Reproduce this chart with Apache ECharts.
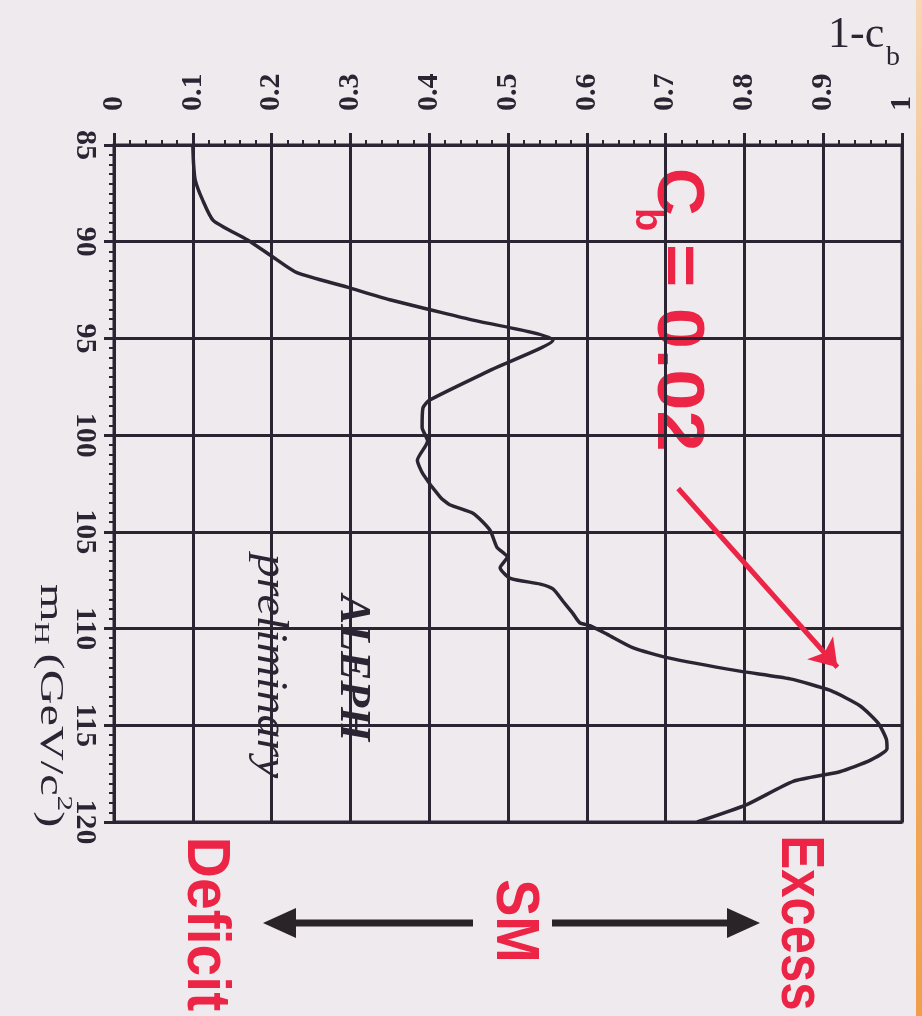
<!DOCTYPE html>
<html>
<head>
<meta charset="utf-8">
<script src="https://cdn.jsdelivr.net/npm/echarts@6/dist/echarts.min.js"></script>
<style>
  html, body { margin: 0; padding: 0; background: #efeaee; }
  #chart { width: 922px; height: 1016px; }
</style>
</head>
<body>
<div id="chart"></div>
<script>
// Higgs mass hypothesis (GeV/c^2) and the background-only confidence 1-c_b
const massGeV = [
  85.0, 86.0, 86.8, 87.8, 88.9, 89.9, 90.8, 91.6, 92.35, 93.0,
  94.0, 95.1, 96.6, 98.2, 98.6, 99.6, 100.3, 101.3, 102.0, 103.2,
  103.6, 104.05, 104.9, 105.8, 106.3, 106.85, 107.4, 107.7, 107.95, 108.6,
  109.2, 109.7, 109.85, 110.3, 111.0, 111.5, 112.2, 112.6, 113.2, 114.0,
  114.9, 115.7, 116.2, 116.8, 117.4, 117.9, 119.1, 120.0
];
const oneMinusCb = [
  0.100, 0.101, 0.103, 0.112, 0.126, 0.169, 0.202, 0.232, 0.296, 0.350,
  0.450, 0.557, 0.480, 0.400, 0.392, 0.391, 0.398, 0.385, 0.392, 0.414,
  0.426, 0.456, 0.477, 0.486, 0.499, 0.490, 0.503, 0.541, 0.557, 0.570,
  0.582, 0.591, 0.604, 0.626, 0.659, 0.702, 0.794, 0.858, 0.909, 0.947,
  0.970, 0.980, 0.981, 0.960, 0.921, 0.862, 0.803, 0.740
];

// Axis tick labels
const massTicks = [85, 90, 95, 100, 105, 110, 115, 120];
const cbTicks = [0, 0.1, 0.2, 0.3, 0.4, 0.5, 0.6, 0.7, 0.8, 0.9, 1];

// Annotation pointer from the c_b label to the excess, as [1-c_b, m_H]
const pointerFrom = [0.716, 102.76];
const pointerTo = [0.918, 112.0];

const INK = '#2b2533';
const RED = '#ec2446';
const SERIF = '"Liberation Serif", "Times New Roman", serif';
const SANS = '"Liberation Sans", Arial, sans-serif';
const CW = -Math.PI / 2;

// text running top-to-bottom
function vText(x, y, text, st, scaleX) {
  return {
    type: 'text', x: x, y: y, rotation: CW, scaleX: scaleX || 1,
    style: Object.assign({
      text: text,
      textAlign: 'center', textVerticalAlign: 'middle',
      align: 'center', verticalAlign: 'middle'
    }, st)
  };
}
function piece(x, y, text, st, scaleX) {
  return {
    type: 'text', x: x, y: y, scaleX: scaleX || 1,
    style: Object.assign({
      text: text,
      textAlign: 'left', textVerticalAlign: 'middle',
      align: 'left', verticalAlign: 'middle'
    }, st)
  };
}

const chart = echarts.init(document.getElementById('chart'), null, { renderer: 'canvas' });

const serifLabel = { fontFamily: SERIF, fontSize: 30, fontWeight: 'bold', color: INK };

const option = {
  animation: false,
  backgroundColor: '#efeaee',
  grid: {
    left: 114, right: 20, top: 145, bottom: 194,
    show: true, borderColor: INK, borderWidth: 3, backgroundColor: 'transparent'
  },
  xAxis: {
    type: 'value', position: 'top',
    min: cbTicks[0], max: cbTicks[cbTicks.length - 1], interval: cbTicks[1] - cbTicks[0],
    axisLine: { show: true, lineStyle: { color: INK, width: 3 } },
    axisTick: { show: true, length: 12, lineStyle: { color: INK, width: 3 } },
    minorTick: { show: true, splitNumber: 5, length: 5, lineStyle: { color: INK, width: 2 } },
    splitLine: { show: true, lineStyle: { color: INK, width: 3 } },
    axisLabel: Object.assign({ rotate: -90, margin: 34, formatter: v => String(+v.toFixed(1)) }, serifLabel)
  },
  yAxis: {
    type: 'value', inverse: true,
    min: massTicks[0], max: massTicks[massTicks.length - 1], interval: massTicks[1] - massTicks[0],
    axisLine: { show: true, lineStyle: { color: INK, width: 3 } },
    axisTick: { show: true, length: 10, lineStyle: { color: INK, width: 3 } },
    minorTick: { show: true, splitNumber: 10, length: 5, lineStyle: { color: INK, width: 2 } },
    splitLine: { show: true, lineStyle: { color: INK, width: 3 } },
    axisLabel: Object.assign({ rotate: -90, margin: 14 }, serifLabel)
  },
  series: [{
    type: 'line',
    data: massGeV.map((m, i) => [oneMinusCb[i], m]),
    showSymbol: false,
    smooth: 0.2,
    lineStyle: { color: INK, width: 3.5 },
    markLine: {
      silent: true,
      symbol: ['none', 'arrow'],
      symbolSize: 26,
      label: { show: false },
      lineStyle: { color: RED, width: 5, type: 'solid' },
      itemStyle: { color: RED },
      data: [[{ coord: pointerFrom }, { coord: pointerTo }]]
    }
  }],
  graphic: [
    // orange edge on the right
    {
      type: 'rect', shape: { x: 916, y: 0, width: 6, height: 1016 },
      style: { fill: new echarts.graphic.LinearGradient(0, 0, 0, 1, [
        { offset: 0, color: '#f6d7b4' }, { offset: 0.5, color: '#f2b26e' }, { offset: 1, color: '#ef9f4c' }
      ]) }
    },
    // y-axis title 1-c_b
    piece(828, 35, '1-c', { fontFamily: SERIF, fontSize: 44, fill: INK }),
    piece(886, 58, 'b', { fontFamily: SERIF, fontSize: 28, fill: INK }),
    // x-axis title m_H (GeV/c^2)
    {
      type: 'group', x: 50, y: 584, rotation: CW, scaleX: 1.42,
      children: [
        piece(0, 0, 'm', { fontFamily: SERIF, fontSize: 34, fill: INK }),
        piece(26.5, 9, 'H', { fontFamily: SERIF, fontSize: 22, fill: INK }),
        piece(49, 0, '(GeV/c', { fontFamily: SERIF, fontSize: 34, fill: INK }),
        piece(149, -14, '2', { fontFamily: SERIF, fontSize: 22, fill: INK }),
        piece(160, 0, ')', { fontFamily: SERIF, fontSize: 34, fill: INK })
      ]
    },
    // experiment tag
    vText(352, 668, 'ALEPH', { fontFamily: SERIF, fontSize: 44, fontStyle: 'italic', fontWeight: 'bold', fill: INK }),
    vText(270, 666, 'preliminary', { fontFamily: SERIF, fontSize: 44, fontStyle: 'italic', fill: INK }, 1.09),
    // c_b value label
    {
      type: 'group', x: 676, y: 168, rotation: CW,
      children: [
        piece(0, 0, 'C', { fontFamily: SANS, fontSize: 66, fontWeight: 'bold', fill: RED }),
        piece(40, 30, 'b', { fontFamily: SANS, fontSize: 38, fontWeight: 'bold', fill: RED }),
        piece(76, 0, '= 0.02', { fontFamily: SANS, fontSize: 66, fontWeight: 'bold', fill: RED }, 1.12)
      ]
    },
    // Excess / SM / Deficit scale below the plot
    vText(799, 923, 'Excess', { fontFamily: SANS, fontSize: 62, fontWeight: 'bold', fill: RED }, 0.82),
    vText(514, 921, 'SM', { fontFamily: SANS, fontSize: 62, fontWeight: 'bold', fill: RED }, 0.9),
    vText(205, 924, 'Deficit', { fontFamily: SANS, fontSize: 62, fontWeight: 'bold', fill: RED }, 0.92),
    { type: 'line', shape: { x1: 290, y1: 923, x2: 473, y2: 923 }, style: { stroke: '#2a2428', lineWidth: 7 } },
    { type: 'polygon', shape: { points: [[263, 923], [296, 908], [296, 938]] }, style: { fill: '#2a2428' } },
    { type: 'line', shape: { x1: 552, y1: 923, x2: 732, y2: 923 }, style: { stroke: '#2a2428', lineWidth: 7 } },
    { type: 'polygon', shape: { points: [[760, 923], [727, 908], [727, 938]] }, style: { fill: '#2a2428' } }
  ]
};

chart.setOption(option);
</script>
</body>
</html>
